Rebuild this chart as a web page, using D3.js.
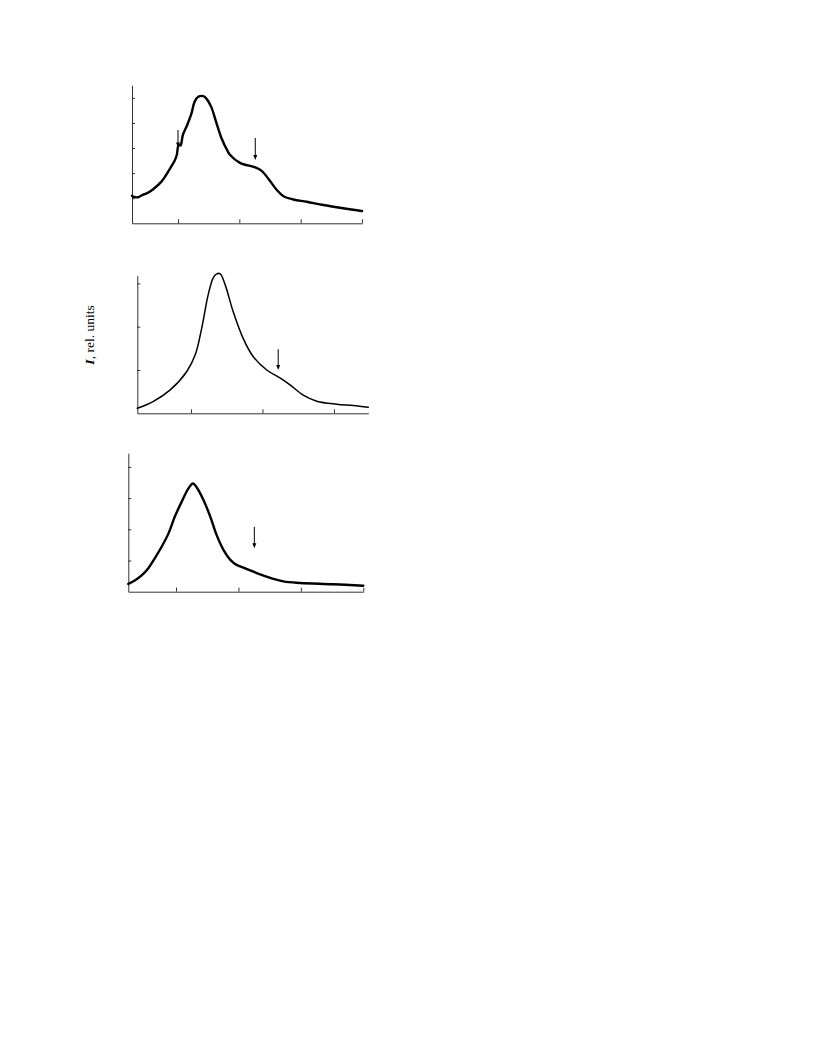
<!DOCTYPE html>
<html><head><meta charset="utf-8">
<script src="https://cdn.jsdelivr.net/npm/d3@7"></script>
<style>body{margin:0;background:#fff}</style>
</head><body>
<script>
// Panel 1 (top)
const p1x = [0.25,0.27,0.35,0.43,0.48,0.59,0.73,0.84,0.95,0.98,1.01,1.04,1.08,1.15,1.22,1.27,1.33,1.41,1.46,1.54,1.62,1.71,1.80,1.85,2.01,2.26,2.36,2.47,2.61,2.72,2.88,3.10,3.37,3.64,3.97,4.0];
const p1y = [1.10,1.06,1.04,1.14,1.18,1.35,1.66,2.06,2.52,2.72,3.12,3.10,3.52,3.92,4.38,4.84,5.04,5.07,4.98,4.65,4.05,3.39,2.92,2.72,2.41,2.23,2.10,1.79,1.33,1.08,0.95,0.86,0.73,0.62,0.50,0.49];
const p1xTicks = [1,2,3,4];
const p1yTicks = [1,2,3,4,5];
const p1arrows = [[2.26,3.40,2.52],[1.0,3.72,3.02]];
// Panel 2 (middle)
const p2x = [0.25,0.47,0.71,0.94,1.06,1.15,1.24,1.31,1.36,1.41,1.48,1.59,1.73,1.87,2.06,2.25,2.39,2.57,2.76,3.04,3.27,3.48];
const p2y = [0.115,0.27,0.54,0.96,1.35,1.96,2.73,3.12,3.22,3.22,2.96,2.35,1.73,1.31,1.0,0.81,0.65,0.42,0.28,0.21,0.18,0.14];
const p2xTicks = [1,2,3];
const p2yTicks = [1,2,3];
const p2arrows = [[2.22,1.48,1.0]];
// Panel 3 (bottom)
const p3x = [0.236,0.34,0.45,0.56,0.66,0.77,0.88,0.98,1.09,1.20,1.27,1.33,1.44,1.55,1.65,1.76,1.87,1.97,2.11,2.24,2.45,2.72,2.99,3.52,4.0];
const p3y = [0.25,0.36,0.52,0.76,1.07,1.44,1.87,2.40,2.88,3.31,3.47,3.35,2.94,2.40,1.82,1.34,1.02,0.86,0.75,0.64,0.48,0.33,0.28,0.24,0.19];
const p3xTicks = [1,2,3,4];
const p3yTicks = [1,2,3,4];
const p3arrows = [[2.255,2.08,1.39]];

const yLabel = "rel. units";

const svg = d3.select("body").append("svg").attr("width",816).attr("height",1056);

function panel(cfg){
  const x = d3.scaleLinear().domain(cfg.xd).range(cfg.xr);
  const y = d3.scaleLinear().domain(cfg.yd).range(cfg.yr);
  const g = svg.append("g");
  const xAxis = d3.axisBottom(x).tickValues(cfg.xt).tickSizeInner(-4).tickSizeOuter(0).tickFormat("");
  const gx = g.append("g").attr("transform",`translate(0,${cfg.yr[0]})`).call(xAxis);
  const yAxis = d3.axisLeft(y).tickValues(cfg.yt).tickSizeInner(-3).tickSizeOuter(0).tickFormat("");
  const gy = g.append("g").attr("transform",`translate(${cfg.xr[0]},0)`).call(yAxis);
  [gx,gy].forEach(a=>{a.selectAll("path,line").attr("stroke","#333").attr("stroke-width",1);});
  const data = cfg.xs.map((v,i)=>[v,cfg.ys[i]]);
  const line = d3.line().x(d=>x(d[0])).y(d=>y(d[1])).curve(d3.curveCatmullRom.alpha(0.5));
  g.append("path").datum(data).attr("d",line).attr("fill","none").attr("stroke","#000")
    .attr("stroke-width",cfg.sw).attr("stroke-linejoin","round").attr("stroke-linecap","round");
  cfg.arrows.forEach(a=>{
    const ax = x(a[0]), y0 = y(a[1]), y1 = y(a[2]);
    g.append("line").attr("x1",ax).attr("x2",ax).attr("y1",y0).attr("y2",y1-4)
      .attr("stroke","#000").attr("stroke-width",1);
    g.append("path").attr("d",`M${ax-2},${y1-5}L${ax+2},${y1-5}L${ax},${y1}Z`).attr("fill","#000");
  });
}

panel({xd:[0.25,4],xr:[132,362],yd:[0,5.5],yr:[223.3,85.3],xt:p1xTicks,yt:p1yTicks,xs:p1x,ys:p1y,sw:2.4,arrows:p1arrows});
panel({xd:[0.25,3.48],xr:[137.3,368.3],yd:[0,3.18],yr:[413.3,275.6],xt:p2xTicks,yt:p2yTicks,xs:p2x,ys:p2y,sw:1.5,arrows:p2arrows});
panel({xd:[0.236,4],xr:[128.3,363.3],yd:[0,4.44],yr:[591.7,453.2],xt:p3xTicks,yt:p3yTicks,xs:p3x,ys:p3y,sw:2.4,arrows:p3arrows});

const t = svg.append("text").attr("transform","translate(94,335) rotate(-90)")
  .attr("text-anchor","middle").attr("font-family","Liberation Serif, Times New Roman, serif").attr("font-size",13.5);
t.append("tspan").attr("font-style","italic").attr("font-weight","bold").text("I");
t.append("tspan").text(", " + yLabel);
</script>
</body></html>
